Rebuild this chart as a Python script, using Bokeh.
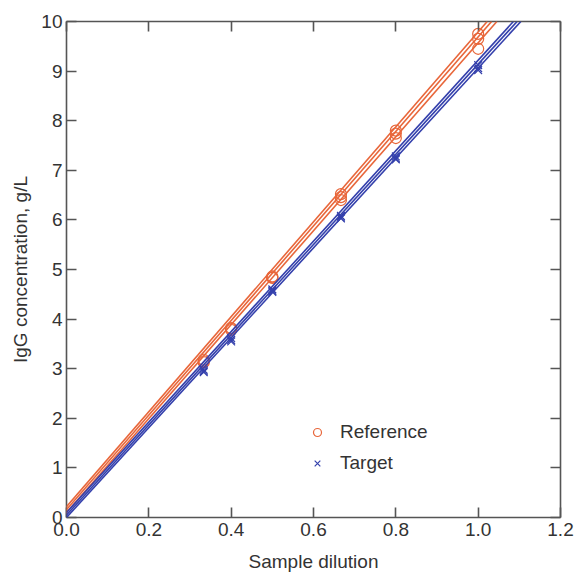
from bokeh.plotting import figure
from bokeh.models import (Slope, Legend, LegendItem, LinearAxis, FixedTicker,
                          NumeralTickFormatter, Range1d, Title)
from bokeh.embed import file_html
from bokeh.resources import INLINE

# ---- data ----
dilution = [1/3, 0.4, 0.5, 2/3, 0.8, 1.0]

ref_rep1 = [3.18, 3.82, 4.86, 6.52, 7.80, 9.75]
ref_rep2 = [3.13, 3.78, 4.83, 6.46, 7.74, 9.65]
ref_rep3 = [3.15, 3.80, 4.84, 6.40, 7.65, 9.45]

tgt_rep1 = [2.98, 3.62, 4.60, 6.08, 7.28, 9.12]
tgt_rep2 = [2.95, 3.58, 4.57, 6.05, 7.24, 9.06]
tgt_rep3 = [2.93, 3.55, 4.55, 6.03, 7.22, 9.02]

# regression lines (intercept, slope) for each replicate
ref_intercepts = [0.22, 0.16, 0.10]
ref_slopes = [9.57, 9.53, 9.47]
tgt_intercepts = [0.10, 0.05, 0.00]
tgt_slopes = [9.12, 9.09, 9.06]

x_ticks = [0.0, 0.2, 0.4, 0.6, 0.8, 1.0, 1.2]
y_ticks = [0, 1, 2, 3, 4, 5, 6, 7, 8, 9, 10]

series_names = ["Reference", "Target"]
x_label = "Sample dilution"
y_label = "IgG concentration, g/L"

ORANGE = "#e8663a"
BLUE = "#3440ac"
AXIS = "#555555"
TEXT = "#333333"
FONT = "Liberation Sans"
FS = "19px"

p = figure(width=578, height=574, x_range=Range1d(0, 1.2), y_range=Range1d(0, 10),
           output_backend="svg", toolbar_location=None,
           min_border_left=66, min_border_right=18, min_border_top=21, min_border_bottom=57)
p.grid.visible = False
p.outline_line_color = None
p.background_fill_color = "white"
p.border_fill_color = "white"

p.add_layout(LinearAxis(), "above")
p.add_layout(LinearAxis(), "right")

for ax in p.xaxis:
    ax.ticker = FixedTicker(ticks=x_ticks)
    ax.formatter = NumeralTickFormatter(format="0.0")
for ax in p.yaxis:
    ax.ticker = FixedTicker(ticks=y_ticks)
for ax in p.axis:
    ax.axis_line_color = AXIS
    ax.axis_line_width = 1.6
    ax.major_tick_line_color = AXIS
    ax.major_tick_line_width = 1.6
    ax.major_tick_in = 10
    ax.major_tick_out = 0
    ax.minor_tick_line_color = None
    ax.major_label_text_font = FONT
    ax.major_label_text_font_size = FS
    ax.major_label_text_color = TEXT

bottom_axis = p.below[0]
bottom_axis.major_label_standoff = 5
bottom_axis.axis_label = x_label
bottom_axis.axis_label_text_font = FONT
bottom_axis.axis_label_text_font_size = FS
bottom_axis.axis_label_text_font_style = "normal"
bottom_axis.axis_label_text_color = TEXT
bottom_axis.axis_label_standoff = 12

p.left[0].major_label_standoff = 4
# mirrored axes: ticks only, no labels
for ax in (p.above[0], p.right[0]):
    ax.major_label_text_color = None
    ax.major_label_text_alpha = 0
    ax.major_label_standoff = 0

# y axis title, placed slightly above centre as in the reference
p.add_layout(Title(text=y_label, align="center", offset=20, standoff=15,
                   text_font=FONT, text_font_size=FS, text_font_style="normal",
                   text_color=TEXT), "left")

# regression lines
for a, b in zip(ref_intercepts, ref_slopes):
    p.add_layout(Slope(gradient=b, y_intercept=a, line_color=ORANGE, line_width=1.6))
for a, b in zip(tgt_intercepts, tgt_slopes):
    p.add_layout(Slope(gradient=b, y_intercept=a, line_color=BLUE, line_width=1.6))

# data points
ref_renderers = []
for reps in (ref_rep1, ref_rep2, ref_rep3):
    ref_renderers.append(p.scatter(x=dilution, y=reps, marker="circle", size=11,
                                   fill_color=None, line_color=ORANGE, line_width=1.2))
tgt_renderers = []
for reps in (tgt_rep1, tgt_rep2, tgt_rep3):
    tgt_renderers.append(p.scatter(x=dilution, y=reps, marker="x", size=11,
                                   line_color=BLUE, line_width=1.2))

legend = Legend(items=[LegendItem(label=series_names[0], renderers=[ref_renderers[0]]),
                       LegendItem(label=series_names[1], renderers=[tgt_renderers[0]])],
                location=(241, 40), padding=0, margin=0, spacing=3,
                glyph_width=20, glyph_height=28, label_standoff=13,
                border_line_color=None, background_fill_alpha=0,
                label_text_font=FONT, label_text_font_size=FS, label_text_color=TEXT)
p.add_layout(legend)

open("out.html", "w").write(file_html(p, INLINE))
